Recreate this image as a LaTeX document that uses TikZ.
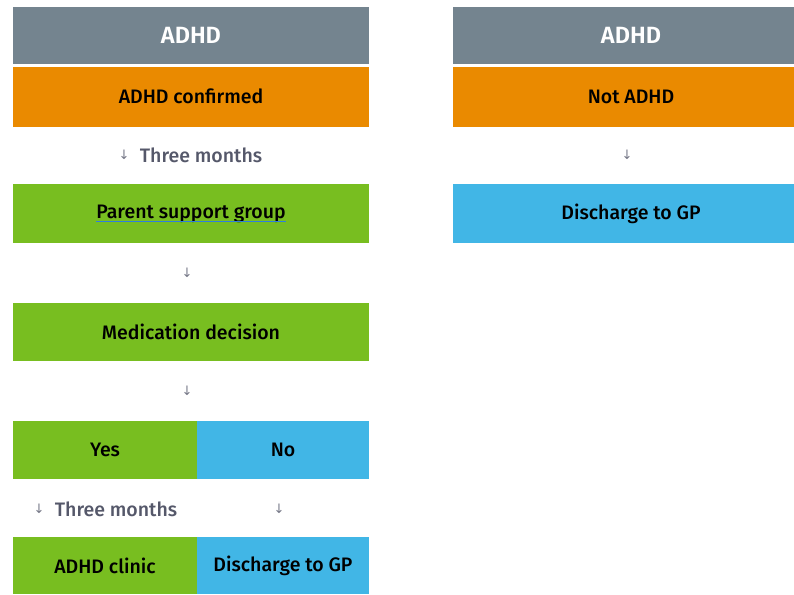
\documentclass[tikz,border=0pt]{standalone}
\usepackage{fontspec}
\setmainfont{Fira Sans}[UprightFont=* Medium, BoldFont=* SemiBold]
\newfontfamily\arrowfont{DejaVu Sans}
\usepackage{tikz}
\usetikzlibrary{positioning}

\definecolor{headgrey}{HTML}{74848F}
\definecolor{adhdorange}{HTML}{EA8A00}
\definecolor{adhdgreen}{HTML}{78BE20}
\definecolor{adhdblue}{HTML}{41B6E6}
\definecolor{stepgrey}{HTML}{55586A}
\definecolor{linkblue}{HTML}{2F7DE1}

\tikzset{
  cell/.style={rectangle, inner sep=0pt, minimum width=356pt, font=\fontsize{19.5}{22}\selectfont, text=black},
  header/.style={cell, fill=headgrey, minimum height=57pt, text=white, font=\fontsize{23.5}{26}\selectfont\bfseries},
  half/.style={cell, minimum height=58pt},
  plaintext/.style={inner sep=0pt, font=\fontsize{19.5}{22}\selectfont, text=black},
  stepnote/.style={inner sep=0pt, text=stepgrey, font=\fontsize{19.5}{22}\selectfont},
  downarrow/.style={inner sep=0pt, text=stepgrey!80, font=\arrowfont\fontsize{13}{15}\selectfont}
}

\begin{document}
\begin{tikzpicture}[x=1pt, y=-1pt]
				\clip (0,0) rectangle (794,594);
				\fill[white] (0,0) rectangle (794,594);
				% left column
				\node[header] (headL) at (191, 35.5) {ADHD};
				\node[cell, fill=adhdorange, minimum height=60pt] (confirmed) at (191, 96.5) {ADHD confirmed};
				\node[downarrow] (arrA) at (124, 155) {↓};
				\node[stepnote, right=10pt of arrA] (threeA) {Three months};
				\node[cell, fill=adhdgreen, minimum height=59pt] (parent) at (191, 213.5) {};
				\node[plaintext] (parentText) at (parent) {Parent support group};
				\draw[linkblue, line width=1.1pt] ([yshift=-3.5pt]parentText.base west) -- ([yshift=-3.5pt]parentText.base east);
				\node[downarrow] (arrB) at (187, 273) {↓};
				\node[cell, fill=adhdgreen, minimum height=58pt] (medication) at (191, 331.5) {Medication decision};
				\node[downarrow] (arrC) at (187, 391) {↓};
				\node[half, fill=adhdgreen, minimum width=184pt] (yes) at (105, 449.5) {Yes};
				\node[half, fill=adhdblue, minimum width=172pt] (no) at (283, 449.5) {No};
				\node[downarrow] (arrD) at (39, 509) {↓};
				\node[stepnote, right=10pt of arrD] (threeB) {Three months};
				\node[downarrow] (arrE) at (279, 509) {↓};
				\node[half, fill=adhdgreen, minimum width=184pt, minimum height=57pt] (clinic) at (105, 565.5) {ADHD clinic};
				\node[half, fill=adhdblue, minimum width=172pt, minimum height=57pt] (dischargeL) at (283, 565.5) {Discharge to GP};
				% right column
				\node[header] (headR) at (631, 35.5) {ADHD};
				\node[cell, fill=adhdorange, minimum height=60pt] (notadhd) at (631, 96.5) {Not ADHD};
				\node[downarrow] (arrF) at (627, 155) {↓};
				\node[cell, fill=adhdblue, minimum height=59pt] (dischargeR) at (631, 213.5) {Discharge to GP};
			\end{tikzpicture}
\end{document}
